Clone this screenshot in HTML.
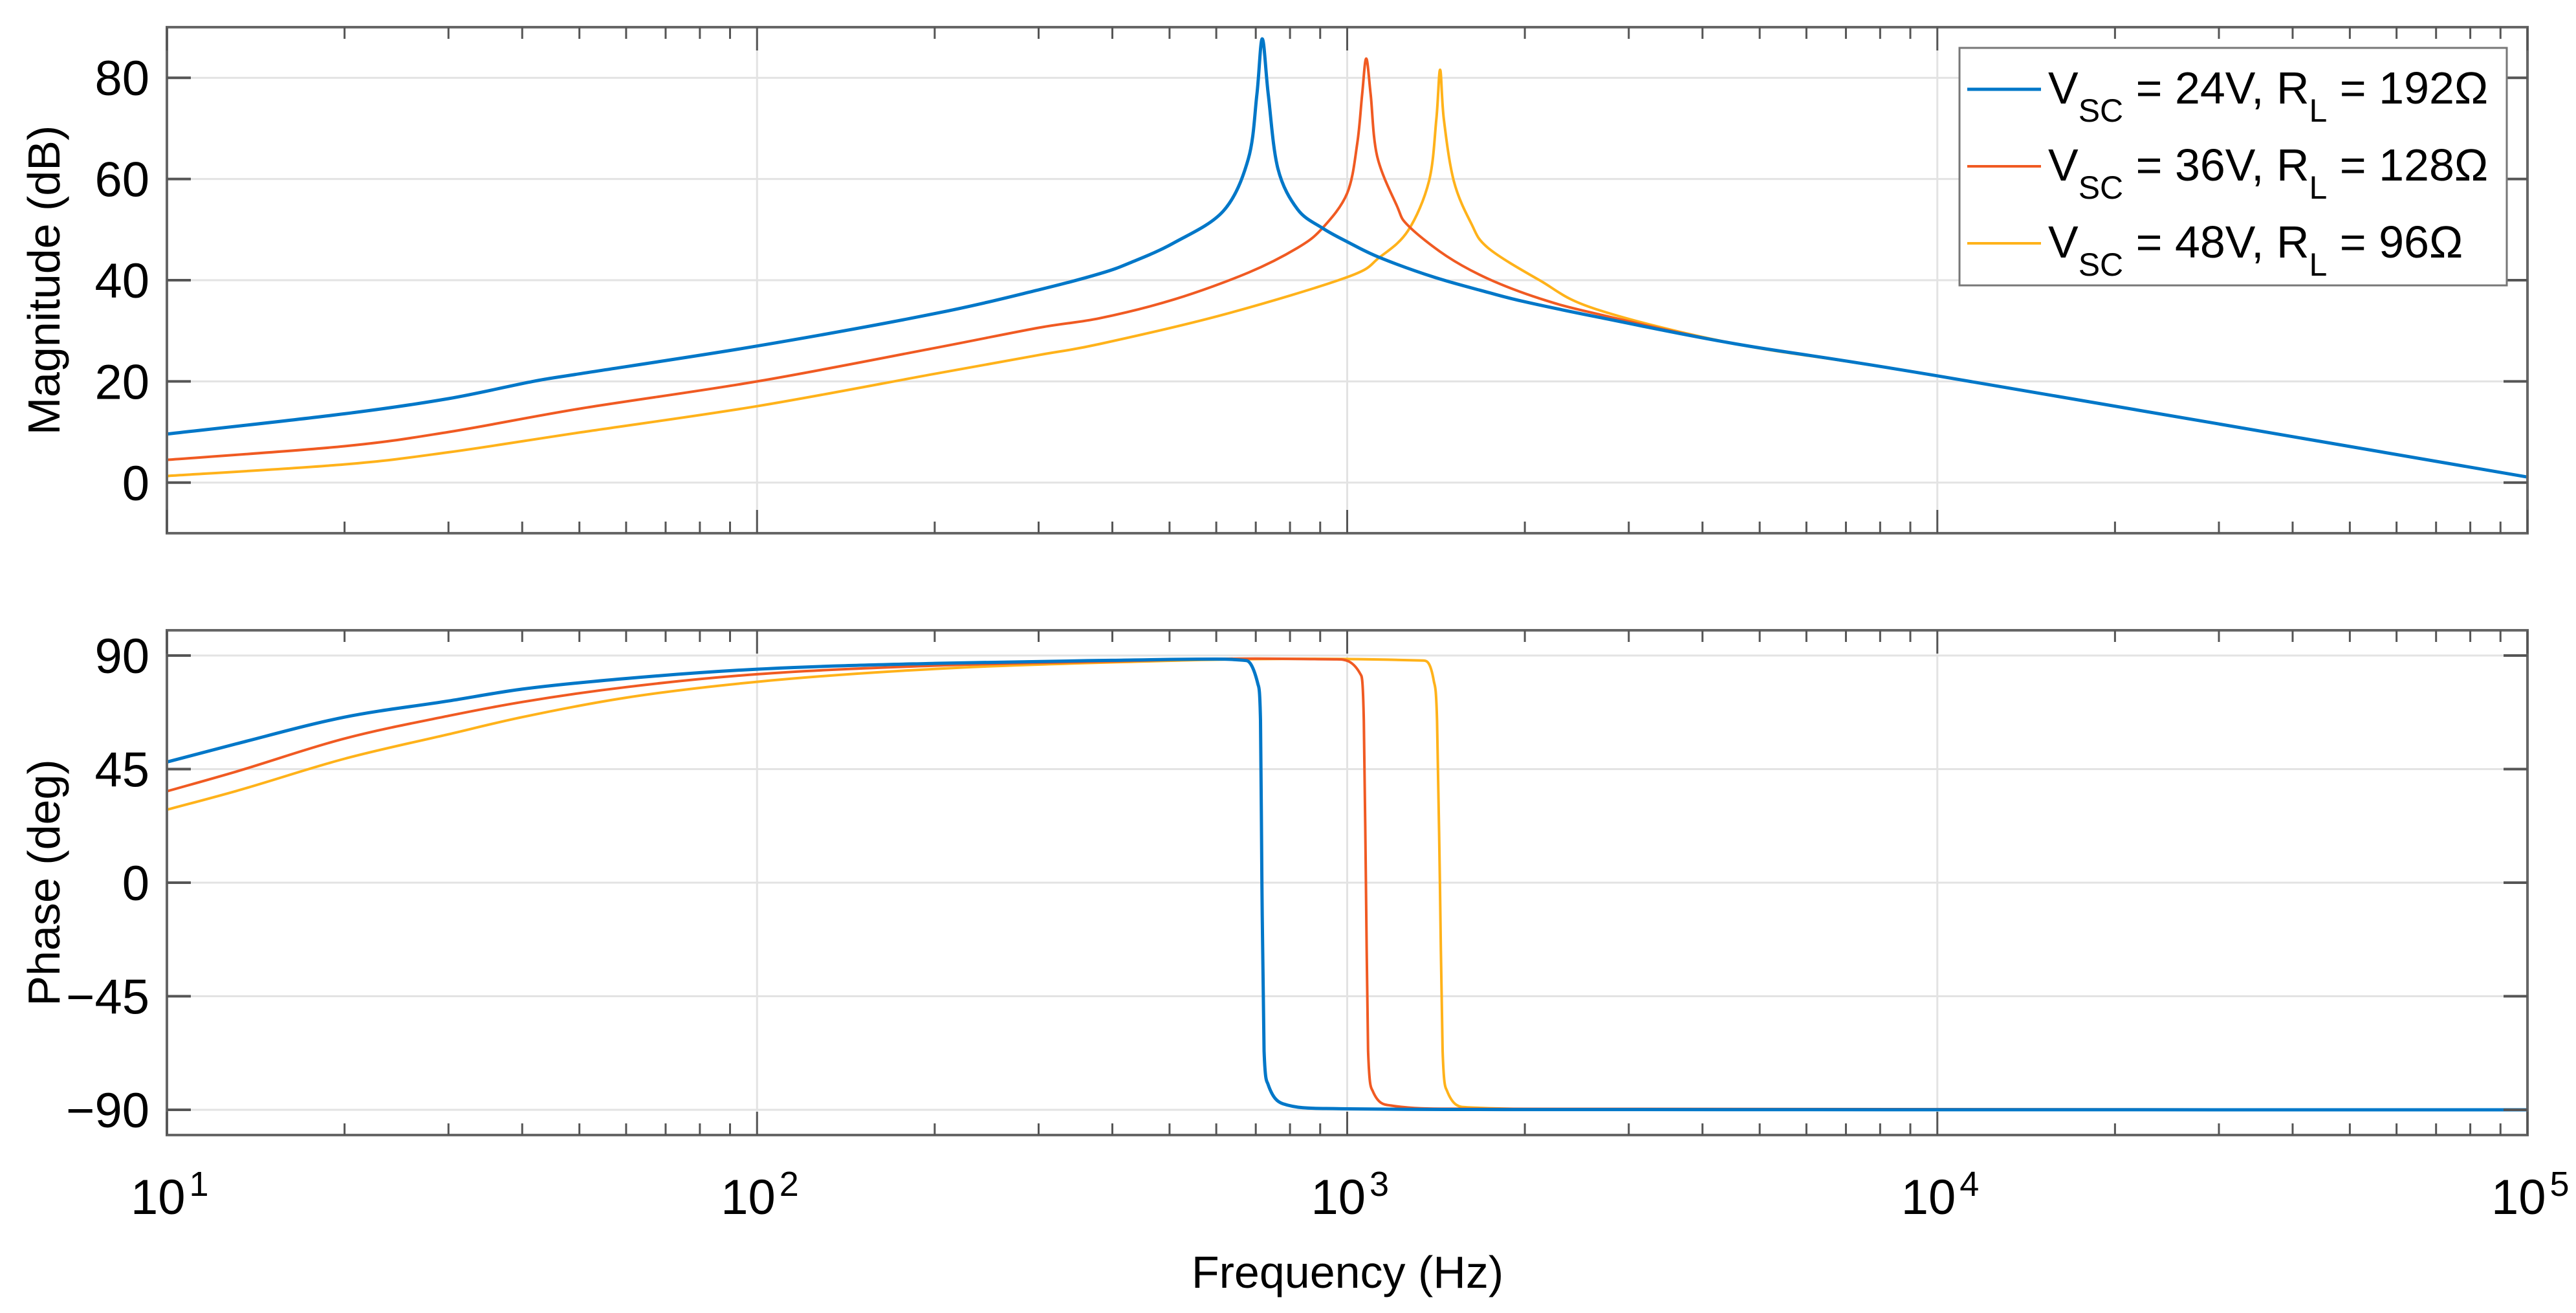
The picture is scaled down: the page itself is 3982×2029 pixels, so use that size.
<!DOCTYPE html>
<html><head><meta charset="utf-8">
<style>
html,body{margin:0;padding:0;background:#fff;}
svg{display:block;}
text{font-family:"Liberation Sans",Arial,sans-serif;fill:#000;}
</style></head>
<body>
<svg id="chart" xmlns="http://www.w3.org/2000/svg" width="3982" height="2029" viewBox="0 0 3982 2029">
<rect x="0" y="0" width="3982" height="2029" fill="#fff"/>
<g id="magGrid"></g>
<g id="phGrid"></g>
<g id="magLines"></g>
<g id="phLines"></g>
<g id="axes"></g>
<text x="0" y="0" font-size="70" text-anchor="middle" transform="translate(92,433) rotate(-90)">Magnitude (dB)</text>
<text x="0" y="0" font-size="70" text-anchor="middle" transform="translate(92,1364) rotate(-90)">Phase (deg)</text>
<text x="2083" y="1990" font-size="70" text-anchor="middle">Frequency (Hz)</text>
<g>
<rect x="3029" y="74" width="846" height="367" fill="#fff" stroke="#777" stroke-width="3"/>
<g>
<line x1="3041" y1="138" x2="3155" y2="138" stroke="#0077C8" stroke-width="5"/>
<text x="3166" y="160" font-size="70">V<tspan font-size="50" dy="28">SC</tspan><tspan dy="-28"> = 24V, R</tspan><tspan font-size="50" dy="28">L</tspan><tspan dy="-28"> = 192Ω</tspan></text>
</g>
<g>
<line x1="3041" y1="257" x2="3155" y2="257" stroke="#F05A22" stroke-width="4"/>
<text x="3166" y="279" font-size="70">V<tspan font-size="50" dy="28">SC</tspan><tspan dy="-28"> = 36V, R</tspan><tspan font-size="50" dy="28">L</tspan><tspan dy="-28"> = 128Ω</tspan></text>
</g>
<g>
<line x1="3041" y1="376" x2="3155" y2="376" stroke="#FFB21A" stroke-width="4"/>
<text x="3166" y="398" font-size="70">V<tspan font-size="50" dy="28">SC</tspan><tspan dy="-28"> = 48V, R</tspan><tspan font-size="50" dy="28">L</tspan><tspan dy="-28"> = 96Ω</tspan></text>
</g>
</g>
</svg>
<script>
// ---- data ----
const magFreqA = [10,20,30,41.7,50,100,200,300,381,432,509,617,680,703,718,735,763,824,908,1000,1134,1403,1732,2006,2637,4560,10000,100000];
const magDbA   = [9.6,13.6,16.6,20,21.5,27,33.4,38.1,41.3,43.6,47.4,53.7,64,76.7,87.7,76.7,62.1,54,50.3,47.6,44.5,40.6,37.6,35.7,32.8,27.4,21.1,1.1];
const magFreqB = [10,20,30,50,100,200,300,381,509,680,824,908,1000,1040,1060,1077,1096,1124,1214,1268,1472,1732,2118,2637,4560,10000,100000];
const magDbB   = [4.5,7.2,10,14.6,20,26.6,30.6,32.5,36.2,41.5,46.4,50.3,57.2,67,76.7,83.8,76.7,64.5,54.7,50.8,44.8,40.3,36.4,33.4,27.4,21.1,1.1];
const magFreqC = [10,20,30,50,100,200,300,381,617,1000,1134,1268,1376,1416,1437,1458,1516,1621,1732,2118,2637,4560,10000,100000];
const magDbC   = [1.3,3.6,6,9.9,15.1,21.5,25.2,27.4,33.2,40.6,44.5,49.8,59.6,71.8,81.6,71.8,59.6,51.3,46.4,40,34.3,27.4,21.1,1.1];

const phFreqA = [10,13.1,20,30,40,60,100,200,399,600,675,706,713,717,723,734,778,921,2000,100000];
const phDegA  = [47.8,55,65.6,72,76.7,80.9,84.6,86.9,88.1,88.6,88,78.6,64.2,-1.2,-66.7,-79.8,-87.6,-89.5,-89.9,-90];
const phFreqB = [10,13.1,20,30,40,60,100,200,400,700,961,1054,1067,1076,1085,1104,1186,1500,100000];
const phDegB  = [36.2,44,57.1,66.1,71.6,77.5,82.6,86,87.7,88.8,88.5,82.5,64.2,-1.2,-66.7,-82.4,-88.3,-89.6,-90];
const phFreqC = [10,13.1,20,30,40,60,100,200,400,800,1345,1402,1420,1436,1451,1476,1592,2500,100000];
const phDegC  = [28.9,36.3,49.1,58.8,65.6,73.3,79.6,84.7,87.3,88.7,88,79.9,64.2,-1.2,-66.7,-82.4,-89,-89.8,-90];

const magTicks = [0,20,40,60,80];
const phTicks = [-90,-45,0,45,90];
const decadeExps = [1,2,3,4,5];

// ---- axes geometry ----
const X0 = 258, X1 = 3907;
const MAG = {top:42, bot:824, min:-10, max:90};
const PH  = {top:974, bot:1754, min:-100, max:100};
const NS = 'http://www.w3.org/2000/svg';
function xs(f){ return X0 + (Math.log10(f) - 1) / 4 * (X1 - X0); }
function ys(ax, v){ return ax.bot - (v - ax.min) / (ax.max - ax.min) * (ax.bot - ax.top); }
function mk(tag, attrs, parent){
  const e = document.createElementNS(NS, tag);
  for (const k in attrs) e.setAttribute(k, attrs[k]);
  parent.appendChild(e);
  return e;
}

function grid(ax, ticks, g){
  decadeExps.forEach(function(p){
    if (p === 1 || p === 5) return;
    const x = xs(Math.pow(10, p));
    const l = mk('line', {x1:x, x2:x, y1:ax.top, y2:ax.bot, stroke:'#e3e3e3', 'stroke-width':3}, g);
    
    
  });
  ticks.forEach(function(t){
    const y = ys(ax, t);
    const l = mk('line', {x1:X0, x2:X1, y1:y, y2:y, stroke:'#e3e3e3', 'stroke-width':3}, g);
    
    
  });
}
grid(MAG, magTicks, document.getElementById('magGrid'));
grid(PH, phTicks, document.getElementById('phGrid'));

// monotone cubic (phase)
function monoPath(px, py){
  const n = px.length, d = [], m = [];
  for (let i = 0; i < n - 1; i++) d.push((py[i+1] - py[i]) / (px[i+1] - px[i]));
  m.push(d[0]);
  for (let i = 1; i < n - 1; i++) m.push(d[i-1] * d[i] <= 0 ? 0 : (d[i-1] + d[i]) / 2);
  m.push(d[n-2]);
  for (let i = 0; i < n - 1; i++){
    if (d[i] === 0){ m[i] = 0; m[i+1] = 0; continue; }
    const a = m[i] / d[i], b = m[i+1] / d[i], s = a*a + b*b;
    if (s > 9){ const t = 3 / Math.sqrt(s); m[i] = t*a*d[i]; m[i+1] = t*b*d[i]; }
  }
  let s = 'M' + px[0].toFixed(1) + ',' + py[0].toFixed(1);
  for (let i = 0; i < n - 1; i++){
    const h = px[i+1] - px[i];
    s += ' C' + (px[i] + h/3).toFixed(1) + ',' + (py[i] + m[i]*h/3).toFixed(1) + ' ' +
         (px[i+1] - h/3).toFixed(1) + ',' + (py[i+1] - m[i+1]*h/3).toFixed(1) + ' ' +
         px[i+1].toFixed(1) + ',' + py[i+1].toFixed(1);
  }
  return s;
}
// Catmull-Rom (magnitude)
function crPath(px, py){
  const n = px.length;
  let s = 'M' + px[0].toFixed(1) + ',' + py[0].toFixed(1);
  for (let i = 0; i < n - 1; i++){
    const x0 = i > 0 ? px[i-1] : px[i], y0 = i > 0 ? py[i-1] : py[i];
    const x3 = i < n - 2 ? px[i+2] : px[i+1], y3 = i < n - 2 ? py[i+2] : py[i+1];
    const c1x = px[i] + (px[i+1] - x0) / 6, c1y = py[i] + (py[i+1] - y0) / 6;
    const c2x = px[i+1] - (x3 - px[i]) / 6, c2y = py[i+1] - (y3 - py[i]) / 6;
    s += ' C' + c1x.toFixed(1) + ',' + c1y.toFixed(1) + ' ' + c2x.toFixed(1) + ',' + c2y.toFixed(1) + ' ' + px[i+1].toFixed(1) + ',' + py[i+1].toFixed(1);
  }
  return s;
}

function series(fr, vals, ax, color, w, g, name, mono){
  const px = fr.map(function(f){ return xs(f); });
  const py = vals.map(function(v){ return ys(ax, v); });
  const p = mk('path', {d:(mono ? monoPath(px, py) : crPath(px, py)), fill:'none', stroke:color, 'stroke-width':w, 'stroke-linejoin':'round'}, g);
  
  
}
const mg = document.getElementById('magLines'), pg = document.getElementById('phLines');
series(magFreqC, magDbC, MAG, '#FFB21A', 4, mg, 'magnitude-48v', false);
series(magFreqB, magDbB, MAG, '#F05A22', 4, mg, 'magnitude-36v', false);
series(magFreqA, magDbA, MAG, '#0077C8', 5, mg, 'magnitude-24v', false);
series(phFreqC, phDegC, PH, '#FFB21A', 4, pg, 'phase-48v', true);
series(phFreqB, phDegB, PH, '#F05A22', 4, pg, 'phase-36v', true);
series(phFreqA, phDegA, PH, '#0077C8', 5, pg, 'phase-24v', true);

const axg = document.getElementById('axes');
function axesBox(ax, ticks, name){
  const r = mk('rect', {x:X0, y:ax.top, width:X1-X0, height:ax.bot-ax.top, fill:'none', stroke:'#666', 'stroke-width':4}, axg);
  
  
  decadeExps.forEach(function(p){
    for (let m = 1; m <= 9; m++){
      if (p === 5 && m > 1) break;
      const x = xs(m * Math.pow(10, p));
      const len = m === 1 ? 36 : 18;
      mk('line', {x1:x, x2:x, y1:ax.top, y2:ax.top+len, stroke:'#555', 'stroke-width':3}, axg);
      mk('line', {x1:x, x2:x, y1:ax.bot, y2:ax.bot-len, stroke:'#555', 'stroke-width':3}, axg);
    }
  });
  ticks.forEach(function(t){
    const y = ys(ax, t);
    mk('line', {x1:X0, x2:X0+37, y1:y, y2:y, stroke:'#555', 'stroke-width':4}, axg);
    mk('line', {x1:X1, x2:X1-37, y1:y, y2:y, stroke:'#555', 'stroke-width':4}, axg);
    const tx = mk('text', {x:231, y:y+27, 'font-size':76, 'text-anchor':'end'}, axg);
    tx.textContent = (t < 0 ? '\u2212' + Math.abs(t) : String(t));
    
    
  });
}
axesBox(MAG, magTicks, 'magnitude');
axesBox(PH, phTicks, 'phase');

decadeExps.forEach(function(p){
  const x = xs(Math.pow(10, p));
  const t = mk('text', {x:x-56, y:1876, 'font-size':76}, axg);
  t.textContent = '10';
  const s = mk('tspan', {'font-size':54, dy:-28, dx:6}, t);
  s.textContent = String(p);
  
  
});
</script>
</body></html>
